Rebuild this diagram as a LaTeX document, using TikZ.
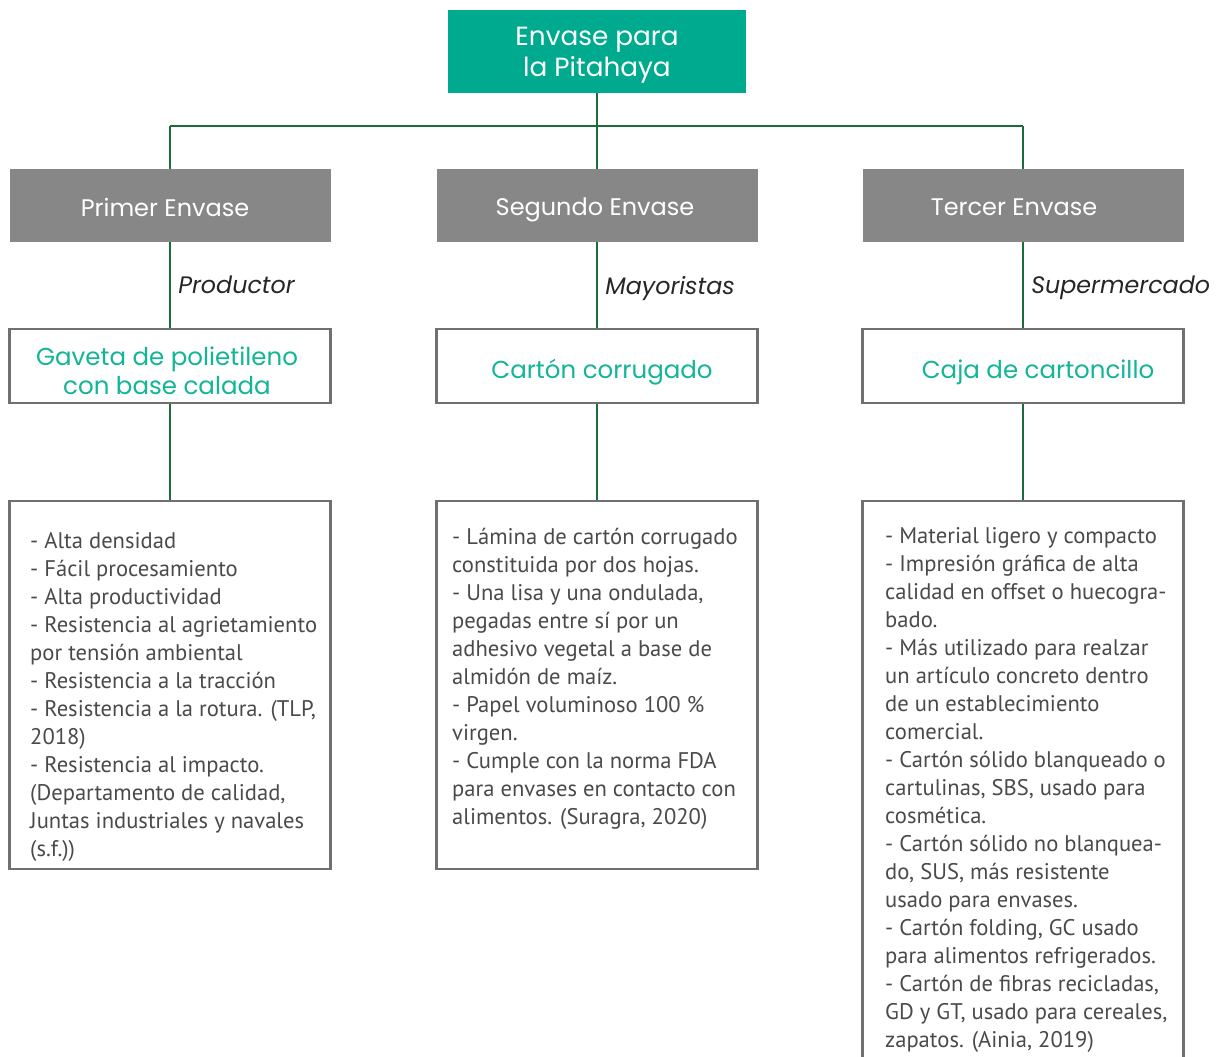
\documentclass[tikz,border=0pt]{standalone}
\usepackage{fontspec}
\setmainfont{PT Sans}
\newfontfamily\headfont{Poppins}
\definecolor{boxteal}{HTML}{00AA8E}
\definecolor{txtteal}{HTML}{12B596}
\definecolor{linegreen}{HTML}{1C6B3A}
\definecolor{greyfill}{HTML}{878787}
\definecolor{greyline}{HTML}{707070}
\definecolor{bodytxt}{HTML}{4A4A4A}
\tikzset{
  topbox/.style={rectangle, fill=boxteal, minimum width=298pt, minimum height=83pt, inner sep=0pt},
  toptxt/.style={text=white, align=center, inner sep=0pt, font=\headfont\fontsize{26.3}{31}\selectfont},
  greybox/.style={rectangle, fill=greyfill, minimum width=321pt, minimum height=73pt, inner sep=0pt},
  greytxt/.style={anchor=base, text=white, inner sep=0pt, font=\headfont\fontsize{24}{28}\selectfont},
  whitebox/.style={rectangle, draw=greyline, line width=2.2pt, fill=white, minimum width=321pt, inner sep=0pt},
  tealtxt/.style={text=txtteal, align=center, inner sep=0pt, font=\headfont\fontsize{24.5}{29}\selectfont},
  bodytext/.style={anchor=north west, inner sep=0pt, align=left, text=bodytxt, font=\fontsize{22.6}{28}\selectfont},
  conn/.style={draw=linegreen, line width=2.6pt},
  chan/.style={right, inner sep=0pt, xshift=7pt, text depth=0pt, text=black!85, font=\headfont\itshape\fontsize{23.8}{28}\selectfont}
}
\begin{document}
\begin{tikzpicture}[x=1pt,y=-1pt]
\useasboundingbox (0,0) rectangle (1219,1057);
\clip (0,0) rectangle (1219,1057);
\coordinate (busL) at (170,126);
\coordinate (busM) at (597,126);
\coordinate (busR) at (1023,126);
% top and second level
\node[topbox] (root) at (597,51.5) {};
\node[toptxt] (roott) at (597,55.5) {Envase para\\la Pitahaya};
\node[greybox] (p1) at (170,205.5) {};
\node[greybox] (p2) at (597,205.5) {};
\node[greybox] (p3) at (1023,205.5) {};
\node[greytxt] (p1t) at (165,216) {Primer Envase};
\node[greytxt] (p2t) at (595,215.5) {Segundo Envase};
\node[greytxt] (p3t) at (1014,215.5) {Tercer Envase};
\draw[conn] (root.south) -- (busM);
\draw[conn] (busL) -- (busR);
\draw[conn] (busL) -- (p1.north);
\draw[conn] (busM) -- (p2.north);
\draw[conn] (busR) -- (p3.north);
% third level
\node[whitebox, minimum height=74pt] (g1) at (170,366) {};
\node[whitebox, minimum height=74pt] (g2) at (597,366) {};
\node[whitebox, minimum height=74pt] (g3) at (1023,366) {};
\draw[conn] (p1.south) -- (g1.north) node[midway, chan] {Productor};
\draw[conn] (p2.south) -- (g2.north) node[midway, chan] {Mayoristas};
\draw[conn] (p3.south) -- (g3.north) node[midway, chan] {Supermercado};
\node[tealtxt] (g1t) at (167,371) {Gaveta de polietileno\\con base calada};
\node[tealtxt] (g2t) at (602,372) {Cartón corrugado};
\node[tealtxt] (g3t) at (1038,372) {Caja de cartoncillo};
% detail boxes
\node[whitebox, minimum height=368pt] (d1) at (170,685) {};
\node[whitebox, minimum height=368pt] (d2) at (597,685) {};
\node[whitebox, minimum height=600pt] (d3) at (1023,801) {};
\draw[conn] (g1.south) -- (d1.north);
\draw[conn] (g2.south) -- (d2.north);
\draw[conn] (g3.south) -- (d3.north);
\node[bodytext] (d1t) at (30,532) {- Alta densidad\\- Fácil procesamiento\\- Alta productividad\\- Resistencia al agrietamiento\\por tensión ambiental\\- Resistencia a la tracción\\- Resistencia a la rotura. (TLP,\\2018)\\- Resistencia al impacto.\\(Departamento de calidad,\\Juntas industriales y navales\\(s.f.))};
\node[bodytext] (d2t) at (452,528) {- Lámina de cartón corrugado\\constituida por dos hojas.\\- Una lisa y una ondulada,\\pegadas entre sí por un\\adhesivo vegetal a base de\\almidón de maíz.\\- Papel voluminoso 100 \%\\virgen.\\- Cumple con la norma FDA\\para envases en contacto con\\alimentos. (Suragra, 2020)};
\node[bodytext] (d3t) at (885,527) {- Material ligero y compacto\\- Impresión gráfica de alta\\calidad en offset o huecogra-\\bado.\\- Más utilizado para realzar\\un artículo concreto dentro\\de un establecimiento\\comercial.\\- Cartón sólido blanqueado o\\cartulinas, SBS, usado para\\cosmética.\\- Cartón sólido no blanquea-\\do, SUS, más resistente\\usado para envases.\\- Cartón folding, GC usado\\para alimentos refrigerados.\\- Cartón de fibras recicladas,\\GD y GT, usado para cereales,\\zapatos. (Ainia, 2019)};
\end{tikzpicture}
\end{document}
